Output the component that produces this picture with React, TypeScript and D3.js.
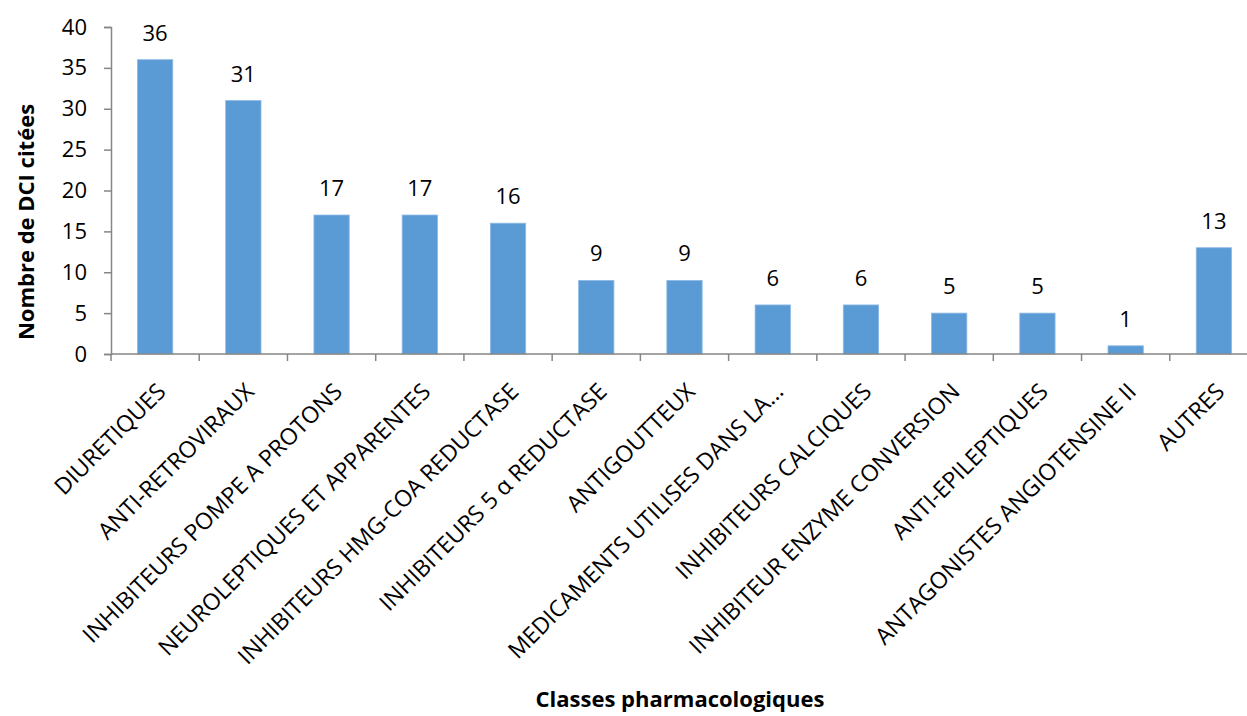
import { useEffect, useRef } from 'react';
import * as d3 from 'd3';

const categories = [
  'DIURETIQUES',
  'ANTI-RETROVIRAUX',
  'INHIBITEURS POMPE A PROTONS',
  'NEUROLEPTIQUES ET APPARENTES',
  'INHIBITEURS HMG-COA REDUCTASE',
  'INHIBITEURS 5 α REDUCTASE',
  'ANTIGOUTTEUX',
  'MEDICAMENTS UTILISES DANS LA...',
  'INHIBITEURS CALCIQUES',
  'INHIBITEUR ENZYME CONVERSION',
  'ANTI-EPILEPTIQUES',
  'ANTAGONISTES ANGIOTENSINE II',
  'AUTRES',
];

const counts = [36, 31, 17, 17, 16, 9, 9, 6, 6, 5, 5, 1, 13];

const yTicks = [0, 5, 10, 15, 20, 25, 30, 35, 40];

const yTitle = 'Nombre de DCI citées';
const xTitle = 'Classes pharmacologiques';

const width = 1247;
const height = 716;
const font = '"Open Sans", "Noto Sans", sans-serif';

const App = () => {
  const svgRef = useRef<SVGSVGElement>(null);

  useEffect(() => {
    document.body.style.margin = '0';
    if (!svgRef.current) return;

    const svg = d3.select(svgRef.current);
    svg.selectAll('*').remove();

    const x = d3.scaleBand()
      .domain(categories)
      .range([111, 1258]);

    const y = d3.scaleLinear()
      .domain([0, 40])
      .range([354, 27]);

    const bw = x.bandwidth();
    const barW = bw * 0.4;

    // bars
    svg.selectAll('.bar')
      .data(categories)
      .enter().append('rect')
      .attr('class', 'bar')
      .attr('x', (d) => (x(d) || 0) + (bw - barW) / 2)
      .attr('y', (d, i) => y(counts[i]))
      .attr('width', barW)
      .attr('height', (d, i) => y(0) - y(counts[i]))
      .attr('fill', '#5B9BD5')
      .attr('stroke', '#8DB9E4')
      .attr('stroke-width', 0.8);

    // value labels
    svg.selectAll('.val')
      .data(categories)
      .enter().append('text')
      .attr('class', 'val')
      .attr('x', (d) => (x(d) || 0) + bw / 2)
      .attr('y', (d, i) => y(counts[i]) - 19)
      .attr('text-anchor', 'middle')
      .style('font-family', font)
      .style('font-size', '22px')
      .attr('fill', '#000')
      .text((d, i) => counts[i]);

    // y axis
    const yAxis = svg.append('g')
      .attr('transform', 'translate(111,0)')
      .call(d3.axisLeft(y).tickValues(yTicks).tickSize(7).tickPadding(17));
    yAxis.select('.domain').attr('stroke', '#868686').attr('stroke-width', 1.5);
    yAxis.selectAll('.tick line').attr('stroke', '#868686').attr('stroke-width', 1.5);
    yAxis.selectAll('.tick text')
      .style('font-family', font)
      .style('font-size', '22px')
      .attr('fill', '#000');

    // x axis (ticks at category boundaries)
    const bounds = categories.map((c) => x(c) || 0).concat([x.range()[1]]);
    svg.append('line')
      .attr('x1', 111).attr('x2', width)
      .attr('y1', y(0)).attr('y2', y(0))
      .attr('stroke', '#868686').attr('stroke-width', 1.5);
    svg.selectAll('.xtick')
      .data(bounds)
      .enter().append('line')
      .attr('class', 'xtick')
      .attr('x1', (d) => d).attr('x2', (d) => d)
      .attr('y1', y(0)).attr('y2', y(0) + 7)
      .attr('stroke', '#868686').attr('stroke-width', 1.5);

    // category labels
    svg.selectAll('.cat')
      .data(categories)
      .enter().append('text')
      .attr('class', 'cat')
      .attr('transform', (d) => `translate(${(x(d) || 0) + bw / 2 + 12},393) rotate(-45)`)
      .attr('text-anchor', 'end')
      .style('font-family', font)
      .style('font-size', '23px')
      .attr('fill', '#000')
      .text((d) => d);

    // axis titles
    svg.append('text')
      .attr('transform', 'translate(34,222) rotate(-90)')
      .attr('text-anchor', 'middle')
      .style('font-family', font)
      .style('font-size', '22px')
      .style('font-weight', 'bold')
      .text(yTitle);

    svg.append('text')
      .attr('x', 680)
      .attr('y', 707)
      .attr('text-anchor', 'middle')
      .style('font-family', font)
      .style('font-size', '22px')
      .style('font-weight', 'bold')
      .text(xTitle);
  }, []);

  return (
    <svg ref={svgRef} width={width} height={height} style={{ display: 'block', background: '#fff' }}></svg>
  );
};

export default App;
